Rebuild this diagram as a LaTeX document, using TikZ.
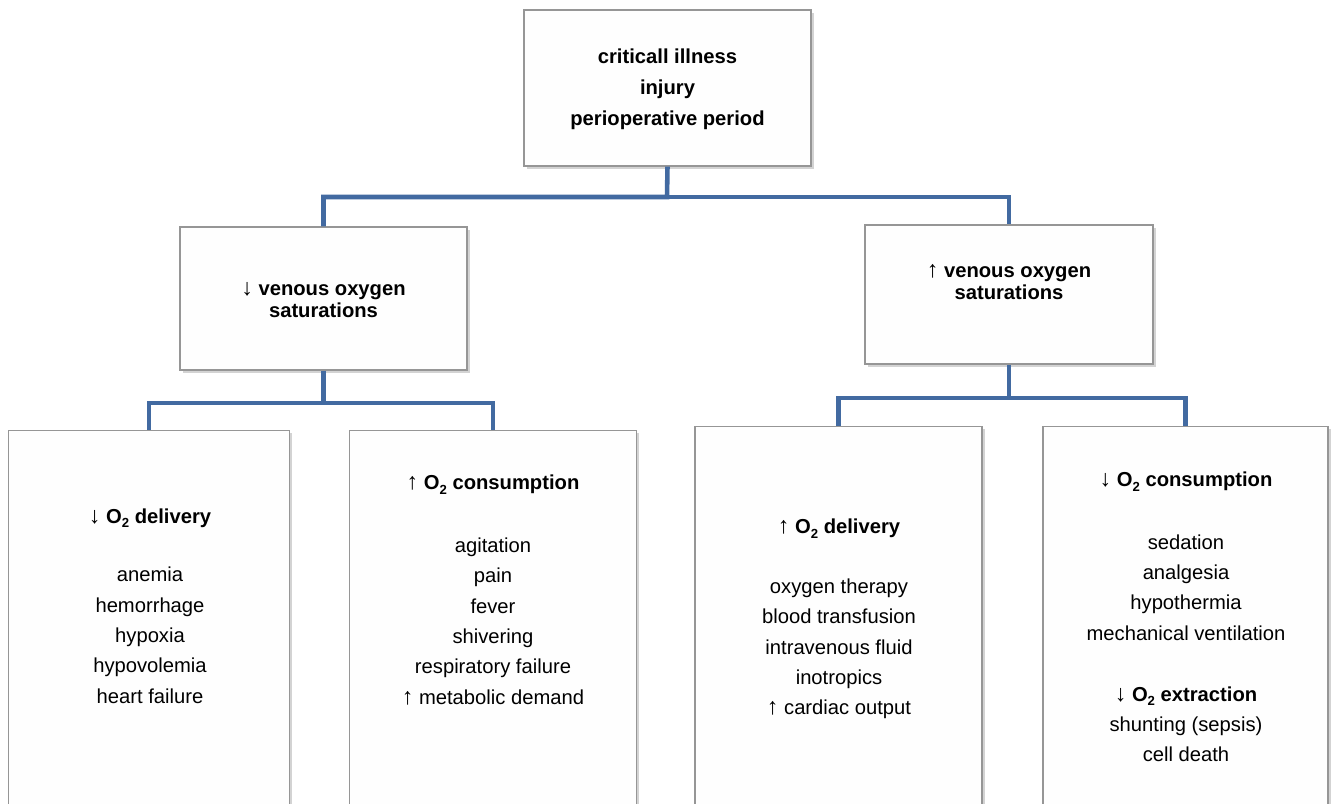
\documentclass[tikz,border=0pt]{standalone}
\usepackage{fontspec}
\setmainfont{Liberation Sans}
\usetikzlibrary{shadows}
\definecolor{linkblue}{RGB}{66,106,161}
\definecolor{boxline}{RGB}{150,150,150}
\definecolor{boxfill}{RGB}{254,254,254}
\tikzset{
  box/.style={draw=boxline,line width=0.7pt,fill=boxfill,inner sep=0pt,
    drop shadow={shadow xshift=1.6pt,shadow yshift=-1.6pt,opacity=0.35}},
  txt/.style={align=center,font=\fontsize{11.5pt}{17.3pt}\selectfont},
  link/.style={draw=linkblue,line width=2.6pt}
}
\newcommand{\dn}{{\mdseries\scalebox{1.15}{\char"2193}}}
\newcommand{\up}{{\mdseries\scalebox{1.15}{\char"2191}}}
\newcommand{\Otwo}{O\raisebox{-0.45ex}{\fontsize{7.5pt}{8pt}\selectfont 2}}

\begin{document}
\begin{tikzpicture}[x=0.02cm,y=-0.02cm]
\useasboundingbox (0,0) rectangle (1336,804);
\clip (0,0) rectangle (1336,804);
% boxes
\node[box,minimum width=5.74cm,minimum height=3.12cm] (top) at (667.5,88) {};
\node[box,minimum width=5.74cm,minimum height=2.86cm] (lmid) at (323.5,298.5) {};
\node[box,minimum width=5.76cm,minimum height=2.78cm] (rmid) at (1009,294.5) {};
\node[box,minimum width=5.62cm,minimum height=8.4cm,anchor=north] (dodel) at (149,430) {};
\node[box,minimum width=5.74cm,minimum height=8.4cm,anchor=north] (ocons) at (493,430) {};
\node[box,minimum width=5.74cm,minimum height=8.4cm,anchor=north] (odel) at (838.5,426) {};
\node[box,minimum width=5.70cm,minimum height=8.4cm,anchor=north] (dcons) at (1185.5,426) {};
% connectors
\coordinate (j1) at (667,197);
\coordinate (j2) at (323.5,403);
\coordinate (j3) at (1009,398);
\draw[link] (top.south) -- (j1) -| (lmid.north);
\draw[link] (j1) -| (rmid.north);
\draw[link] (lmid.south) -- (j2) -| (dodel.north);
\draw[link] (j2) -| (ocons.north);
\draw[link] (rmid.south) -- (j3) -| (odel.north);
\draw[link] (j3) -| (dcons.north);
% texts
\node[txt,font=\fontsize{11.5pt}{17.6pt}\selectfont\bfseries] (ttop) at (667.5,89)
  {criticall illness\\injury\\perioperative period};
\node[txt,font=\fontsize{11.5pt}{12.6pt}\selectfont\bfseries] (tlmid) at (323.5,300)
  {\dn{} venous oxygen\\saturations};
\node[txt,font=\fontsize{11.5pt}{12.6pt}\selectfont\bfseries] (trmid) at (1009,282.5)
  {\up{} venous oxygen\\saturations};
\node[txt] (tdodel) at (150,606)
  {\textbf{\dn{} \Otwo{} delivery}\\[16pt]
   anemia\\hemorrhage\\hypoxia\\hypovolemia\\heart failure};
\node[txt] (tocons) at (493,590)
  {\textbf{\up{} \Otwo{} consumption}\\[18.4pt]
   agitation\\pain\\fever\\shivering\\respiratory failure\\\up{} metabolic demand};
\node[txt] (todel) at (839,619)
  {\textbf{\up{} \Otwo{} delivery}\\[16.7pt]
   oxygen therapy\\blood transfusion\\intravenous fluid\\inotropics\\\up{} cardiac output};
\node[txt] (tdcons) at (1186,617)
  {\textbf{\dn{} \Otwo{} consumption}\\[18.4pt]
   sedation\\analgesia\\hypothermia\\mechanical ventilation\\[17.3pt]
   \textbf{\dn{} \Otwo{} extraction}\\shunting (sepsis)\\cell death};
\end{tikzpicture}
\end{document}
